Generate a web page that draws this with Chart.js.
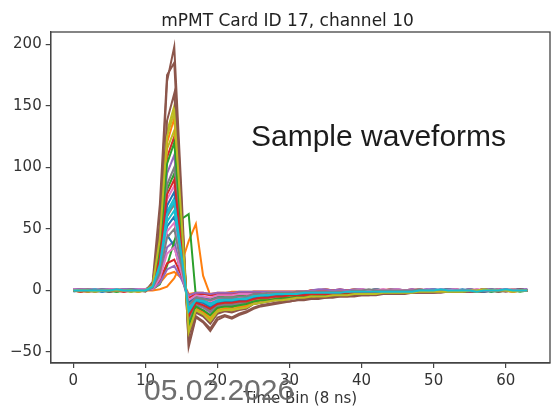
<!DOCTYPE html>
<html><head><meta charset="utf-8">
<script src="https://cdn.jsdelivr.net/npm/chart.js@4.4.0/dist/chart.umd.min.js"></script>
<style>
html,body{margin:0;padding:0;background:#fff;}
#wrap{position:relative;width:551px;height:411px;overflow:hidden;background:#fff;}
#c{position:absolute;left:0;top:0;}
.note{position:absolute;font-family:"Liberation Sans",Arial,sans-serif;white-space:nowrap;line-height:1;font-size:30px;}
#ann{left:251px;top:121px;color:#1c1c1c;}
#wm{left:144px;top:375px;color:#6e6e6e;}
</style></head><body>
<div id="wrap"><canvas id="c" width="551" height="411"></canvas>
<div class="note" id="ann">Sample waveforms</div>
<div class="note" id="wm">05.02.2026</div></div>
<script>
const chartTitle = 'mPMT Card ID 17, channel 10';
const xAxisLabel = 'Time Bin (8 ns)';
const timeBins = [0,1,2,3,4,5,6,7,8,9,10,11,12,13,14,15,16,17,18,19,20,21,22,23,24,25,26,27,28,29,30,31,32,33,34,35,36,37,38,39,40,41,42,43,44,45,46,47,48,49,50,51,52,53,54,55,56,57,58,59,60,61,62,63];
const xTicks = [0,10,20,30,40,50,60];
const yTicks = [-50,0,50,100,150,200];

const wf00 = [0,1,0,0,-1,0,1,0,0,1,0, 2,17,52,60,24,-14,-7,-8,-10,-7,-7,-7,-6,-6, -5,-4,-4,-3,-3,-3,-3,-2,-2,-2,-2,-2,-2,-1,-1,-1,-1,-1,-1,-1,-1,-1,-1, 0,0,1,0,0,0,0,-1,0,0,0,1,0,0,0,0];
const wf01 = [1,0,0,1,0,-1,0,1,0,0,1, 1,6,13,15,10,-3,-2,-2,-3,-2,-2,-1,-1,-1, -1,-1,-1,-1,-1,-1,-1,-1, 0,0,1,0,0,0,1,0,0,0,0,1,0,0,0,1,0,0,0,0,1,0,0,0,1,0,0,0,0,1,0];
const wf02 = [0,0,1,0,0,0,-1,0,1,0,0, 3,28,82,95,38,-22,-11,-13,-16,-12,-10,-11,-10,-9, -7,-6,-6,-5,-5,-4,-4,-4,-3,-3,-3,-3,-2,-2,-2,-2,-2,-2,-1,-1,-1,-1,-1,-1,-1,-1,-1, 0,0,0,1,0,0,0,-1,0,0,1,0];
const wf03 = [0,-1,0,0,1,0,0,-1,0,0,0, 4,36,108,125,50,-29,-14,-17,-21,-15,-14,-14,-13,-12, -9,-8,-8,-7,-6,-6,-5,-5,-5,-4,-4,-4,-3,-3,-3,-3,-2,-2,-2,-2,-2,-2,-1,-1,-1,-1,-1,-1,-1,-1, 0,0,1,0,0,0,-1,0,0];
const wf04 = [1,1,0,1,0,1,1,0,1,1,0, 2,12,35,40,16,-9,-4,-5,-7,-5,-4,-4,-4,-3, -3,-3,-2,-2,-2,-2,-1,-1,-1,-1,-1,-1,-1,-1, 0,1,0,1,0,0,1,0,0,1,0,0,1,1,0,0,1,0,0,1,0,1,0,0,1];
const wf05 = [0,0,-1,0,0,1,0,0,0,-1,0, 5,55,170,198,80,-46,-22,-26,-33,-24,-21,-23,-20,-18, -15,-13,-12,-11,-10,-9,-8,-8,-7,-7,-6,-6,-5,-5,-5,-4,-4,-4,-3,-3,-3,-3,-2,-2,-2,-2,-2,-1,-1,-1,-1,-1,-1,0,0,-1,0,0,0];
const wf06 = [0,1,1,0,0,1,0,1,0,0,1, 3,25,74,85,34,-20,-10,-11,-14,-10,-9,-10,-9,-8, -6,-6,-5,-5,-4,-4,-4,-3,-3,-3,-3,-2,-2,-2,-2,-2,-1,-1,-1,-1,-1,-1,-1,-1, 0,1,0,0,0,0,-1,0,0,0,1,0,0,0,0];
const wf07 = [0,0,0,-1,0,0,0,1,0,0,0, 2,20,60,70,28,-16,-8,-9,-12,-8,-8,-8,-7,-7, -5,-4,-4,-3,-3,-3,-3,-2,-2,-2,-2,-2,-2,-1,-1,-1,-1,-1,-1,-1,-1,-1,-1, 0,0,0,0,1,0,0,0,-1,0,0,0,0,1,0,0];
const wf08 = [0,-1,0,0,0,-1,0,0,1,0,0, 4,42,129,150,60,-35,-17,-20,-25,-18,-16,-17,-15,-14, -11,-10,-9,-8,-8,-7,-6,-6,-5,-5,-5,-4,-4,-4,-3,-3,-3,-3,-2,-2,-2,-2,-2,-1,-1,-1,-1,-1,-1,-1, 0,0,1,0,0,0,-1,0,0];
const wf09 = [0,0,0,0,1,0,0,0,0,0,1, 3,22,64,75,30,-17,-9,-10,-13,-9,-8,-8,-8,-7, -5,-4,-4,-3,-3,-3,-3,-2,-2,-2,-2,-2,-2,-1,-1,-1,-1,-1,-1,-1,-1,-1,-1, 0,0,1,0,0,0,0,-1,0,0,0,1,0,0,0,0];
const wf10 = [-1,0,0,0,0,-1,0,0,0,0,0, 6,30,45,36,12,-10,-5,-6,-7,-5,-5,-5,-4,-4, -3,-3,-2,-2,-2,-2,-1,-1,-1,-1,-1,-1,-1,-1, 0,0,0,1,0,0,0,0,-1,0,0,0,0,1,0,0,0,0,0,-1,0,0,0,1,0];
const wf11 = [0,0,1,0,0,0,1,0,0,-1,0, 0,1,3,10,22,40,54,12,-4,-4,-3,-3,-2,-2, -1,-1,-1,-1,-1,-1,-1,-1, 0,0,1,0,0,0,1,0,0,0,0,1,0,0,0,1,0,0,0,0,1,0,0,0,1,0,0,0,0,1,0];
const wf12 = [0,0,0,1,0,0,0,0,-1,0,0, 1,5,20,40,58,62,-5,-9,-8,-6,-5,-5,-4,-4, -3,-3,-2,-2,-2,-2,-1,-1,-1,-1,-1,-1,-1,-1, 0,0,0,1,0,0,0,0,-1,0,0,0,0,1,0,0,0,0,0,-1,0,0,0,1,0];
const wf13 = [0,0,-1,0,0,0,0,1,0,0,0, 1,8,22,25,12,-6,-3,-3,-4,-3,-3,-3,-2,-2, -1,-1,-1,-1,-1,-1,-1,-1, 0,0,0,0,1,0,0,0,-1,0,0,0,0,0,1,0,0,0,0,-1,0,0,0,0,1,0,0,0,0,0,0];
const wf14 = [1,0,1,1,0,1,0,1,1,0,1, 4,32,95,110,44,-25,-12,-14,-18,-13,-12,-12,-11,-10, -7,-6,-6,-5,-5,-4,-4,-4,-3,-3,-3,-3,-2,-2,-2,-2,-2,-2,-1,-1,-1,-1,-1,-1,-1,-1,-1, 0,1,0,1,0,0,1,0,0,1,1,0];
const wf15 = [0,0,0,-1,0,0,0,0,1,0,-1, 7,70,175,185,70,-43,-21,-25,-31,-22,-20,-22,-19,-17, -14,-12,-11,-10,-9,-9,-8,-7,-7,-6,-6,-5,-5,-5,-4,-4,-4,-3,-3,-3,-3,-2,-2,-2,-2,-2,-1,-1,-1,-1,-1,-1,-1,0,0,1,0,0,0];
const wf16 = [1,0,0,1,1,0,0,1,0,1,0, 2,16,48,55,22,-13,-6,-7,-9,-7,-6,-6,-6,-5, -3,-3,-2,-2,-2,-2,-1,-1,-1,-1,-1,-1,-1,-1, 0,1,0,0,1,0,0,0,1,0,1,0,0,0,1,0,0,1,0,0,0,1,0,0,1];
const wf17 = [0,0,0,0,0,1,0,0,0,0,0, 3,30,86,100,40,-23,-11,-13,-17,-12,-11,-11,-10,-10, -7,-6,-6,-5,-5,-4,-4,-4,-3,-3,-3,-3,-2,-2,-2,-2,-2,-2,-1,-1,-1,-1,-1,-1,-1,-1,-1, 0,0,0,1,0,0,0,-1,0,0,1,0];
const wf18 = [0,0,-1,0,0,0,0,0,-1,0,0, 5,40,115,130,55,-31,-15,-18,-22,-16,-14,-15,-13,-12, -9,-8,-8,-7,-6,-6,-5,-5,-5,-4,-4,-4,-3,-3,-3,-3,-2,-2,-2,-2,-2,-2,-1,-1,-1,-1,-1,-1,-1,-1, 0,-1,0,0,0,0,1,0,0];
const wf19 = [0,0,0,1,0,0,0,0,0,1,0, 2,18,56,65,26,-15,-7,-8,-11,-8,-7,-7,-7,-6, -5,-4,-4,-3,-3,-3,-3,-2,-2,-2,-2,-2,-2,-1,-1,-1,-1,-1,-1,-1,-1,-1,-1, 0,0,1,0,0,0,0,-1,0,0,0,1,0,0,0,0];
const wf20 = [0,0,0,0,-1,0,0,0,0,0,0, 3,24,69,80,32,-18,-9,-10,-14,-10,-9,-9,-8,-8, -6,-6,-5,-5,-4,-4,-4,-3,-3,-3,-3,-2,-2,-2,-2,-2,-1,-1,-1,-1,-1,-1,-1,-1, 0,0,0,0,0,1,0,0,-1,0,0,0,0,1,0];
const wf21 = [0,1,0,0,0,0,1,0,0,0,0, 4,40,120,140,56,-32,-16,-18,-24,-17,-15,-16,-14,-13, -9,-8,-8,-7,-6,-6,-5,-5,-5,-4,-4,-4,-3,-3,-3,-3,-2,-2,-2,-2,-2,-2,-1,-1,-1,-1,-1,-1,-1,-1, 0,0,1,0,0,0,-1,0,0];
const wf22 = [0,0,0,0,1,0,-1,0,0,0,0, 4,34,103,120,48,-28,-13,-16,-20,-14,-13,-13,-12,-11, -9,-8,-8,-7,-6,-6,-5,-5,-5,-4,-4,-4,-3,-3,-3,-3,-2,-2,-2,-2,-2,-2,-1,-1,-1,-1,-1,-1,-1,-1, 0,0,0,1,0,0,0,-1,0];
const wf23 = [0,-1,0,0,0,0,0,-1,0,0,0, 3,26,78,90,36,-21,-10,-12,-15,-11,-10,-10,-9,-9, -7,-6,-6,-5,-5,-4,-4,-4,-3,-3,-3,-3,-2,-2,-2,-2,-2,-2,-1,-1,-1,-1,-1,-1,-1,-1,-1, 0,0,0,-1,0,0,0,1,0,0,0,0];
const wf24 = [1,1,1,0,1,1,0,1,1,1,1, 1,6,17,20,9,-4,-2,-2,-3,-2,-2,-2,-1,-1, -1,-1,-1,-1,-1,-1,-1,-1, 0,1,1,0,1,0,1,1,0,1,0,1,1,0,1,0,1,1,0,1,1,0,1,0,1,1,0,1,0,1,1];
const wf25 = [0,0,0,0,0,-1,0,0,0,0,0, 5,46,138,160,64,-37,-18,-21,-27,-19,-17,-18,-16,-15, -11,-10,-9,-8,-8,-7,-6,-6,-5,-5,-5,-4,-4,-4,-3,-3,-3,-3,-2,-2,-2,-2,-2,-1,-1,-1,-1,-1,-1,-1, 0,0,0,0,-1,0,0,1,0];
const wf26 = [1,0,1,0,0,1,1,0,0,1,1, 1,10,30,35,14,-8,-4,-5,-6,-4,-4,-4,-3,-3, -3,-3,-2,-2,-2,-2,-1,-1,-1,-1,-1,-1,-1,-1, 0,1,0,0,1,0,1,0,0,1,0,0,1,0,1,0,0,1,0,0,1,0,1,0,0];
const wf27 = [0,0,1,0,0,0,0,0,1,0,0, 2,14,43,50,20,-12,-6,-7,-8,-6,-6,-6,-5,-5, -3,-3,-2,-2,-2,-2,-1,-1,-1,-1,-1,-1,-1,-1, 0,0,1,0,0,0,0,0,0,1,0,0,0,-1,0,0,0,0,1,0,0,0,0,0,0];
const wf28 = [0,0,0,-1,0,0,0,0,0,-1,0, 4,42,125,145,58,-34,-16,-19,-25,-17,-16,-16,-15,-14, -11,-10,-9,-8,-8,-7,-6,-6,-5,-5,-5,-4,-4,-4,-3,-3,-3,-3,-2,-2,-2,-2,-2,-1,-1,-1,-1,-1,-1,-1, 0,0,1,0,0,0,-1,0,0];
const wf29 = [0,0,0,0,0,0,1,0,0,0,0, 3,21,62,72,29,-17,-8,-9,-12,-9,-8,-8,-7,-7, -5,-4,-4,-3,-3,-3,-3,-2,-2,-2,-2,-2,-2,-1,-1,-1,-1,-1,-1,-1,-1,-1,-1, 0,0,0,1,0,0,0,0,-1,0,0,0,1,0,0,0];

const waveforms = [wf00,wf01,wf02,wf03,wf04,wf05,wf06,wf07,wf08,wf09,wf10,wf11,wf12,wf13,wf14,wf15,wf16,wf17,wf18,wf19,wf20,wf21,wf22,wf23,wf24,wf25,wf26,wf27,wf28,wf29];
const seriesColors = ['#1f77b4','#ff7f0e','#2ca02c','#d62728','#9467bd','#8c564b','#e377c2','#7f7f7f','#bcbd22','#17becf'];

const datasets = waveforms.map((w, i) => ({
  data: w.map((v, j) => ({x: timeBins[j], y: v})),
  borderColor: seriesColors[i % seriesColors.length],
  backgroundColor: seriesColors[i % seriesColors.length],
  borderWidth: 2,
  pointRadius: 0,
  tension: 0,
  fill: false,
  order: waveforms.length - i
}));

const frameAndTitle = {
  id: 'frameAndTitle',
  afterDraw(c) {
    const a = c.chartArea, g = c.ctx;
    g.save();
    g.strokeStyle = '#444';
    g.lineWidth = 1.3;
    g.strokeRect(a.left, a.top, a.right - a.left, a.bottom - a.top);
    g.fillStyle = '#222';
    g.font = '17px "DejaVu Sans"';
    g.textAlign = 'center';
    g.textBaseline = 'alphabetic';
    g.fillText(chartTitle, 287.5, 26);
    g.restore();
  }
};

const tickFont = {family: 'DejaVu Sans', size: 15};
new Chart(document.getElementById('c'), {
  type: 'line',
  data: {datasets},
  plugins: [frameAndTitle],
  options: {
    responsive: false,
    animation: false,
    devicePixelRatio: 1,
    events: [],
    layout: {padding: {left: 0, right: 1, top: 32, bottom: 0}},
    plugins: {
      legend: {display: false},
      tooltip: {enabled: false},
      title: {display: false}
    },
    scales: {
      x: {
        type: 'linear', min: -3.15, max: 66.15,
        afterFit: s => { s.height = 48; },
        afterBuildTicks: s => { s.ticks = xTicks.map(v => ({value: v})); },
        ticks: {stepSize: 10, includeBounds: false, padding: 4, color: '#333', font: tickFont, maxRotation: 0, autoSkip: false},
        grid: {drawOnChartArea: false, drawTicks: true, tickLength: 5, color: '#444', lineWidth: 1.2},
        border: {display: true, color: '#444', width: 1.3},
        title: {display: true, text: xAxisLabel, color: '#333', font: tickFont, padding: {top: 0, bottom: 3}}
      },
      y: {
        type: 'linear', min: -59, max: 210,
        afterFit: s => { s.width = 50.7; },
        afterBuildTicks: s => { s.ticks = yTicks.map(v => ({value: v})); },
        ticks: {stepSize: 50, includeBounds: false, padding: 4, color: '#333', font: tickFont,
          callback: v => String(v).replace('-', '\u2212')},
        grid: {drawOnChartArea: false, drawTicks: true, tickLength: 5, color: '#444', lineWidth: 1.2},
        border: {display: true, color: '#444', width: 1.3}
      }
    }
  }
});
</script>
</body></html>
